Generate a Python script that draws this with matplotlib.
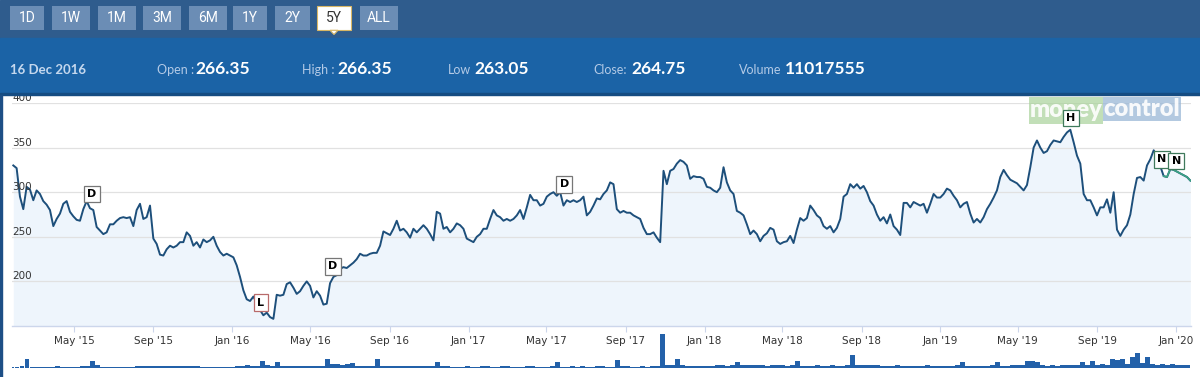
import numpy as np
import pandas as pd
import matplotlib
matplotlib.use("Agg")
from matplotlib import pyplot as plt
import matplotlib.dates as mdates
from matplotlib.patches import Rectangle, Polygon

W, H = 1200, 377

# ---- data ----
price = [
    # Jan '15 - Feb '16
    330, 327, 295, 281, 306, 303, 291, 302, 298, 290, 286, 280, 262, 270, 276, 287, 290, 278, 273, 269,
    268, 281, 290, 282, 280, 261, 257, 253, 255, 264, 264, 268, 271, 272, 271, 272, 262, 280, 287, 270,
    272, 285, 248, 242, 230, 229, 236, 240, 238, 240, 244, 244, 255, 251, 240, 244, 238, 247, 244, 246,
    250, 240, 233, 229, 231, 229, 227, 218, 205, 190, 180, 178, 183, 176, 168, 162, 165, 160, 158, 185,
    184, 185, 197, 199, 193, 186,
    # Feb '16 - Jul '17
    189, 195, 200, 195, 182, 189, 184, 174, 175, 198, 205, 207, 214, 216, 215, 218, 221, 225, 231, 229,
    229, 231, 232, 232, 240, 256, 254, 252, 259, 268, 257, 259, 255, 249, 259, 255, 259, 263, 259, 253,
    246, 278, 276, 259, 261, 255, 259, 265, 263, 259, 248, 246, 244, 250, 253, 259, 259, 270, 280, 274,
    272, 268, 270, 268, 270, 274, 280, 270, 283, 297, 291, 291, 285, 287, 295, 298, 300, 296, 300, 285,
    291, 289, 291, 289, 291, 295, 274, 278, 285, 293,
    # Jul '17 - Dec '18
    292, 298, 302, 311, 309, 281, 277, 279, 277, 277, 274, 272, 270, 260, 253, 253, 255, 249, 244, 324,
    309, 324, 326, 332, 336, 334, 330, 315, 318, 317, 317, 315, 306, 305, 302, 300, 305, 328, 311, 302,
    298, 279, 277, 274, 264, 253, 257, 253, 245, 251, 254, 260, 258, 245, 242, 244, 245, 251, 243, 258,
    271, 268, 271, 285, 280, 274, 271, 262, 259, 262, 255, 260, 270, 295, 298, 309, 305, 309, 304, 307,
    300, 290, 285, 275, 268, 272, 265, 275, 262, 258,
    # Dec '18 - Jan '20
    252, 288, 288, 283, 289, 287, 285, 287, 277, 287, 298, 294, 294, 298, 304, 302, 296, 291, 283, 287,
    289, 276, 266, 270, 266, 272, 281, 287, 294, 302, 317, 325, 319, 314, 312, 310, 306, 302, 308, 328,
    350, 358, 350, 344, 346, 353, 358, 357, 356, 362, 367, 370, 356, 341, 332, 298, 291, 291, 283, 274,
    283, 283, 292, 277, 300, 258, 251, 258, 263, 275, 298, 316, 317, 313, 330, 337, 347, 341, 329, 318,
    317, 326, 325, 323, 321, 319, 317, 313,
]
price_start, price_end = "2015-01-27", "2020-01-23"

# volume in millions of shares, roughly one bar per week
volume_m = [
    5, 6, 8, 36, 5, 6, 4, 5, 6, 7, 5, 4, 6, 5, 7, 9, 28, 14, 5, 5,
    4, 5, 6, 5, 4, 8, 7, 9, 8, 10, 7, 9, 8, 7, 9, 10, 8, 7, 5, 5,
    5, 6, 4, 5, 6, 10, 9, 12, 10, 9, 28, 11, 9, 24, 8, 8, 10, 9, 7, 8,
    9, 8, 10, 36, 18, 16, 14, 17, 19, 9, 8, 9, 8, 36, 8, 9, 7, 8, 9, 7,
    8, 7, 9, 8, 7, 24, 8, 7, 5, 6, 5, 7, 5, 6, 8, 7, 5, 6, 8, 7,
    5, 6, 5, 7, 8, 5, 6, 5, 7, 24, 6, 5, 7, 5, 8, 6, 5, 7, 8, 6,
    5, 32, 9, 7, 5, 6, 8, 6, 8, 7, 136, 14, 11, 36, 11, 9, 9, 7, 9, 7,
    9, 11, 12, 9, 11, 24, 13, 11, 13, 11, 12, 9, 11, 13, 11, 9, 11, 28, 9, 8,
    9, 11, 9, 9, 11, 9, 8, 11, 52, 13, 11, 11, 13, 11, 9, 7, 9, 11, 9, 8,
    7, 9, 8, 11, 9, 7, 9, 8, 9, 11, 24, 9, 7, 9, 8, 9, 11, 24, 9, 8,
    11, 11, 13, 28, 28, 24, 11, 9, 11, 9, 13, 11, 13, 11, 24, 13, 28, 13, 15, 13,
    36, 32, 36, 18, 44, 60, 20, 44, 15, 13, 15, 13, 15, 13, 11, 13,
]
volume_start, volume_end = "2015-01-25", "2020-01-19"

flag_labels = ["D", "L", "D", "D", "H", "N", "N"]
flag_dates = ["2015-05-29", "2016-02-14", "2016-06-05", "2017-05-29",
              "2019-07-22", "2019-12-10", "2020-01-01"]
flag_values = [298, 176, 217, 309, 383, 337, 335]
flag_edges = ["#777777", "#b86a6a", "#777777", "#777777", "#3f7a5c", "#3f7a5c", "#3f7a5c"]

buttons = ["1D", "1W", "1M", "3M", "6M", "1Y", "2Y", "5Y", "ALL"]
selected = "5Y"
info_date = "16 Dec 2016"
info_labels = ["Open :", "High :", "Low", "Close:", "Volume"]
info_values = ["266.35", "266.35", "263.05", "264.75", "11017555"]
yticks = [200, 250, 300, 350, 400]


def fx(px):
    return px / W


def fy(py):
    return 1 - py / H


fig = plt.figure(figsize=(W / 100, H / 100), dpi=100, facecolor="white")

# ---- header bars ----
fig.add_artist(Rectangle((0, fy(38)), 1, 38 / H, transform=fig.transFigure,
                         color="#2f5c8d", zorder=0))
fig.add_artist(Rectangle((0, fy(94)), 1, 56 / H, transform=fig.transFigure,
                         color="#1b63a6", zorder=0))
fig.add_artist(Rectangle((0, fy(95)), 1, 1.6 / H, transform=fig.transFigure,
                         color="#154c82", zorder=1))
fig.add_artist(Rectangle((0, 0), 2 / W, fy(95), transform=fig.transFigure,
                         color="#1d4f86", zorder=1))

btn_x = [(10, 44), (52, 90), (98, 136), (143, 181), (189, 227), (233, 267),
         (275, 310), (317, 351), (360, 398)]
for lab, (x0, x1) in zip(buttons, btn_x):
    sel = lab == selected
    fig.add_artist(Rectangle((fx(x0), fy(30)), fx(x1 - x0), 24 / H,
                             transform=fig.transFigure,
                             fc="white" if sel else "#6b8db5",
                             ec="#d9b765" if sel else "none", lw=0.8, zorder=2))
    if sel:
        xc = (x0 + x1) / 2
        fig.add_artist(Polygon([(fx(xc - 4), fy(30.3)), (fx(xc + 4), fy(30.3)),
                                (fx(xc), fy(34.5))], closed=True,
                               transform=fig.transFigure, fc="white",
                               ec="#d9b765", lw=0.8, zorder=2))
    fig.text(fx((x0 + x1) / 2), fy(18.5), lab, ha="center", va="center",
             family="Roboto", fontsize=10,
             color="#333333" if sel else "white", zorder=3)

fig.text(fx(10), fy(73.5), info_date, ha="left", va="baseline", family="Lato",
         fontweight="bold", fontsize=9.5, color="#c5d8ee")
lab_x = [157, 302, 448, 593, 739]
val_x = [195, 337, 474, 631, 785]
for lab, val, lx, vx in zip(info_labels, info_values, lab_x, val_x):
    fig.text(fx(lx), fy(73.5), lab, ha="left", va="baseline", family="Lato",
             fontsize=9, color="#b3cae6")
    fig.text(fx(vx), fy(73.5), val, ha="left", va="baseline", family="Lato",
             fontweight="bold", fontsize=12.5, color="white")

# ---- price chart ----
dates = pd.date_range(price_start, price_end, periods=len(price))
price = np.array(price)

ax = fig.add_axes([fx(12), fy(326), fx(1191 - 12), (326 - 103) / H])
ax.set_facecolor("none")
ax.set_xlim(pd.Timestamp("2015-01-25"), pd.Timestamp("2020-01-24"))
ax.set_ylim(150, 400)

ax.fill_between(dates, price, 150, color="#eef5fc", lw=0, zorder=1)
ax.plot(dates, price, color="#1d4f7b", lw=1.4, zorder=3, solid_joinstyle="round")
tail = dates >= pd.Timestamp("2019-12-12")
ax.plot(dates[tail], price[tail], color="#3da584", lw=1.2, zorder=3)

ax.set_yticks(yticks)
ax.yaxis.grid(True, color="#e1e1e1", lw=0.9, zorder=0)
ax.tick_params(axis="y", length=0, labelleft=False)
for v in yticks:
    ax.text(0, v, str(v), transform=ax.get_yaxis_transform(), ha="left",
            va="bottom", fontsize=7.5, color="#333333", zorder=5)

ax.xaxis.set_major_locator(mdates.MonthLocator(bymonth=[1, 5, 9]))
ax.xaxis.set_major_formatter(mdates.DateFormatter("%b '%y"))
ax.tick_params(axis="x", length=4.5, width=0.8, color="#ccd6eb", pad=3,
               labelsize=7.5, labelcolor="#333333")
for s in ["top", "left", "right"]:
    ax.spines[s].set_visible(False)
ax.spines["bottom"].set_color("#ccd6eb")
ax.spines["bottom"].set_linewidth(1.0)

# flags
for lab, d, v, ec in zip(flag_labels, flag_dates, flag_values, flag_edges):
    ax.text(pd.Timestamp(d), v, lab, ha="center", va="center", fontsize=8,
            fontweight="bold", color="black", zorder=7, clip_on=False,
            bbox=dict(boxstyle="square,pad=0.3", fc="white", ec=ec, lw=0.9))

# watermark
ax.add_patch(Rectangle((fx(1029), fy(124)), fx(74), 27 / H, transform=fig.transFigure,
                       fc="#a9d29a", alpha=0.7, lw=0, zorder=4, clip_on=False))
ax.add_patch(Rectangle((fx(1103), fy(121)), fx(78), 24 / H, transform=fig.transFigure,
                       fc="#9ab7d6", alpha=0.75, lw=0, zorder=4, clip_on=False))
ax.text(fx(1066), fy(110), "money", transform=fig.transFigure, ha="center",
        va="center", family="Lato", fontweight="heavy", fontsize=17,
        color="white", alpha=0.9, zorder=5, clip_on=False)
ax.text(fx(1142), fy(109), "control", transform=fig.transFigure, ha="center",
        va="center", family="Lato", fontweight="heavy", fontsize=17,
        color="white", alpha=0.9, zorder=5, clip_on=False)

# ---- volume strip ----
vdates = pd.date_range(volume_start, volume_end, periods=len(volume_m))
axv = fig.add_axes([fx(12), fy(368), fx(1191 - 12), 40 / H])
axv.set_facecolor("none")
axv.bar(vdates, volume_m, width=7.7, color="#2361a9", lw=0)
axv.set_xlim(ax.get_xlim())
axv.set_ylim(0, 160)
axv.axis("off")

fig.savefig("out.png", dpi=100, facecolor="white")
